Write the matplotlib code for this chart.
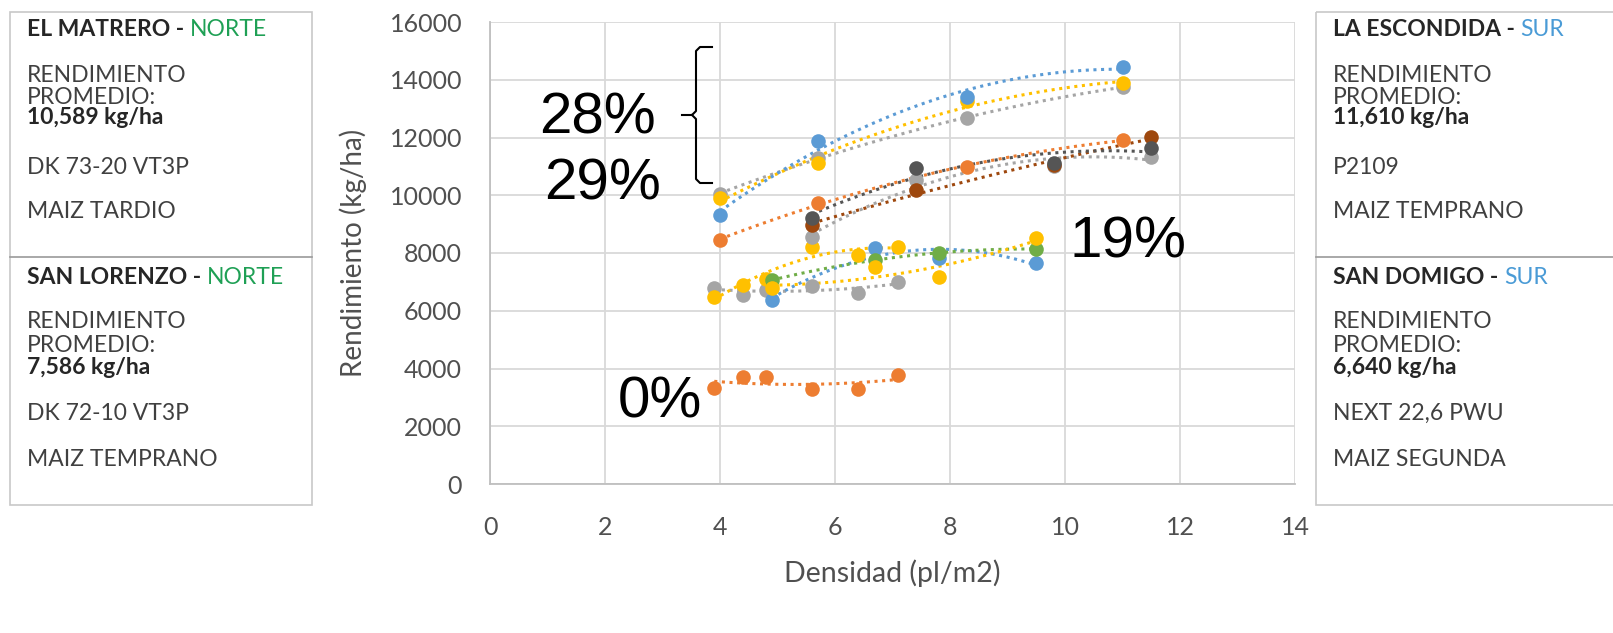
import matplotlib
matplotlib.use('Agg')
import matplotlib.pyplot as plt
import numpy as np
from matplotlib.patches import Rectangle

plt.rcParams['font.family'] = ['Lato', 'DejaVu Sans']

# --- datos (densidad pl/m2, rendimiento kg/ha) ---
dens_escondida = [4.0, 5.7, 8.3, 11.0]
esc_azul = [9300, 11880, 13400, 14440]
esc_amarillo = [9900, 11100, 13250, 13880]
esc_gris = [10050, 11300, 12670, 13750]
mat_naranja = [8450, 9730, 10980, 11910]

dens_matrero = [5.6, 7.4, 9.8, 11.5]
mat_oscuro = [9210, 10940, 11120, 11640]
mat_marron = [8970, 10180, 11050, 12020]
mat_gris = [8550, 10530, 11000, 11330]

dens_domigo = [3.9, 4.4, 4.8, 5.6, 6.4, 7.1]
dom_naranja = [3320, 3710, 3710, 3290, 3290, 3780]
dom_gris = [6790, 6550, 6720, 6860, 6610, 7000]
dom_amarillo = [6480, 6890, 7100, 8210, 7930, 8210]

dens_lorenzo = [4.9, 6.7, 7.8, 9.5]
lor_azul = [6370, 8170, 7830, 7650]
lor_verde = [7060, 7760, 8000, 8140]
lor_amarillo = [6800, 7520, 7170, 8520]

AZUL, NARANJA, GRIS, AMARILLO = '#5B9BD5', '#ED7D31', '#A5A5A5', '#FFC000'
VERDE, OSCURO, MARRON = '#70AD47', '#555555', '#9E480E'

series = [
    (dens_domigo, dom_naranja, NARANJA),
    (dens_domigo, dom_gris, GRIS),
    (dens_domigo, dom_amarillo, AMARILLO),
    (dens_lorenzo, lor_azul, AZUL),
    (dens_lorenzo, lor_verde, VERDE),
    (dens_lorenzo, lor_amarillo, AMARILLO),
    (dens_matrero, mat_gris, GRIS),
    (dens_matrero, mat_marron, MARRON),
    (dens_matrero, mat_oscuro, OSCURO),
    (dens_escondida, mat_naranja, NARANJA),
    (dens_escondida, esc_gris, GRIS),
    (dens_escondida, esc_amarillo, AMARILLO),
    (dens_escondida, esc_azul, AZUL),
]

W, H = 1613, 633
fig = plt.figure(figsize=(W / 100, H / 100), dpi=100)
ax = fig.add_axes([490 / W, 1 - 484 / H, 805 / W, 462 / H])

# puntos y lineas de tendencia (polinomica orden 2)
for x, y, c in series:
    coef = np.polyfit(x, y, 2)
    xx = np.linspace(min(x), max(x), 100)
    ax.plot(xx, np.polyval(coef, xx), color=c, lw=2.2, ls=(0, (1, 1.5)), zorder=2)
for x, y, c in series:
    ax.plot(x, y, 'o', color=c, ms=10.5, mec='none', zorder=3)

ax.set_xlim(0, 14)
ax.set_ylim(0, 16000)
ax.set_xticks(range(0, 15, 2))
ax.set_yticks(range(0, 16001, 2000))
ax.grid(True, color='#D9D9D9', lw=1.3)
ax.set_axisbelow(True)
for s in ['top', 'right']:
    ax.spines[s].set_visible(False)
for s in ['left', 'bottom']:
    ax.spines[s].set_color('#BFBFBF')
    ax.spines[s].set_linewidth(1.3)
ax.tick_params(length=0, labelsize=18, labelcolor='#505050')
ax.tick_params(axis='y', pad=20)
ax.tick_params(axis='x', pad=23)
ax.set_ylabel('Rendimiento (kg/ha)', fontsize=20, color='#505050', va='center')
ax.set_xlabel('Densidad (pl/m2)', fontsize=20.5, color='#505050', va='center')
ax.yaxis.set_label_coords((353 - 490) / 805, 0.5)
ax.xaxis.set_label_coords(0.5, (484 - 573) / 462)

# capa de anotaciones en pixeles
ov = fig.add_axes([0, 0, 1, 1], zorder=5)
ov.set_xlim(0, W)
ov.set_ylim(H, 0)
ov.axis('off')
ov.patch.set_alpha(0)

for x0, x1 in [(10, 312), (1316, 1640)]:
    ov.add_patch(Rectangle((x0, 12), x1 - x0, 493, fill=False, ec='#C8C8C8', lw=1.2))
    ov.plot([x0, x1], [257, 257], color='#9A9A9A', lw=1.2)

def caja(x, titulo, zona, zcol, ys, lineas):
    t = ov.text(x, ys[0], titulo + ' - ', fontsize=16.5, fontweight='bold',
                color='#262626', va='center', ha='left')
    ov.annotate(zona, xy=(1, 0.5), xycoords=t, fontsize=16.5, color=zcol,
                va='center', ha='left')
    for yy, (txt, bold) in zip(ys[1:], lineas):
        ov.text(x, yy, txt, fontsize=16.5, color='#262626' if bold else '#404040',
                fontweight='bold' if bold else 'normal', va='center', ha='left')

ys_top = [30, 76, 97, 118, 168, 212]
ys_bot = [277, 322, 345, 367, 413, 460]
caja(27, 'EL MATRERO', 'NORTE', '#1FA055', ys_top,
     [('RENDIMIENTO', False), ('PROMEDIO:', False), ('10,589 kg/ha', True),
      ('DK 73-20 VT3P', False), ('MAIZ TARDIO', False)])
caja(27, 'SAN LORENZO', 'NORTE', '#1FA055', ys_bot,
     [('RENDIMIENTO', False), ('PROMEDIO:', False), ('7,586 kg/ha', True),
      ('DK 72-10 VT3P', False), ('MAIZ TEMPRANO', False)])
caja(1333, 'LA ESCONDIDA', 'SUR', '#4A9BD6', ys_top,
     [('RENDIMIENTO', False), ('PROMEDIO:', False), ('11,610 kg/ha', True),
      ('P2109', False), ('MAIZ TEMPRANO', False)])
caja(1333, 'SAN DOMIGO', 'SUR', '#4A9BD6', ys_bot,
     [('RENDIMIENTO', False), ('PROMEDIO:', False), ('6,640 kg/ha', True),
      ('NEXT 22,6 PWU', False), ('MAIZ SEGUNDA', False)])

# porcentajes
for txt, x, y in [('28%', 597, 119), ('29%', 603, 184), ('19%', 1128, 243), ('0%', 660, 402)]:
    ov.text(x, y, txt, fontsize=42, family='Liberation Sans', color='black',
            ha='center', va='center')

# llave
ov.plot([712, 700, 696, 696, 692, 682], [47, 47, 51, 111, 115, 115], color='black', lw=1.5)
ov.plot([712, 700, 696, 696, 692], [183, 183, 179, 119, 115], color='black', lw=1.5)

fig.savefig('out.png', dpi=100)
